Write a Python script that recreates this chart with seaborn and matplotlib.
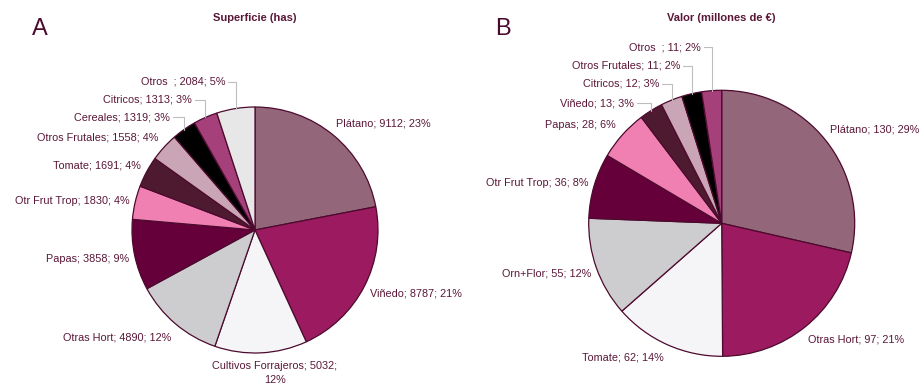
import matplotlib
matplotlib.use("Agg")
import matplotlib.pyplot as plt
import seaborn as sns
import numpy as np

sns.set_theme(style="white")
plt.rcParams["font.family"] = ["Liberation Sans", "DejaVu Sans"]

# --- Superficie (has) ---
sup_cats = ["Plátano", "Viñedo", "Cultivos Forrajeros", "Otras Hort", "Papas",
            "Otr Frut Trop", "Tomate", "Otros Frutales", "Cereales", "Citricos", "Otros  "]
sup_vals = [9112, 8787, 5032, 4890, 3858, 1830, 1691, 1558, 1319, 1313, 2084]
sup_pct = [23, 21, 12, 12, 9, 4, 4, 4, 3, 3, 5]

# --- Valor (millones de €) ---
val_cats = ["Plátano", "Otras Hort", "Tomate", "Orn+Flor", "Otr Frut Trop",
            "Papas", "Viñedo", "Citricos", "Otros Frutales", "Otros  "]
val_vals = [130, 97, 62, 55, 36, 28, 13, 12, 11, 11]
val_pct = [29, 21, 14, 12, 8, 6, 3, 3, 2, 2]

palette = sns.color_palette([
    "#94667a", "#9c1a5f", "#f5f5f7", "#cdcdd0", "#65003a", "#f080b2",
    "#4d1a30", "#c9a5b5", "#000000", "#a5407a", "#e7e7e7",
])

TXT = "#5a1737"
EDGE = "#4d0a2e"
LEAD = "#bdbdbd"
W, H = 921, 385

fig = plt.figure(figsize=(W / 100, H / 100), dpi=100)
fig.patch.set_facecolor("white")


def px(x, y):
    return x / W, 1 - y / H


def draw_pie(cx, cy, r, vals, cats, pct, title, letter, letter_xy, title_y,
             label_pos, leader_idx):
    ax = fig.add_axes([(cx - r) / W, 1 - (cy + r) / H, 2 * r / W, 2 * r / H])
    ax.pie(vals, colors=palette[:len(vals)], startangle=90, counterclock=False,
           radius=1, wedgeprops=dict(edgecolor=EDGE, linewidth=0.9))
    ax.set_xlim(-1, 1)
    ax.set_ylim(-1, 1)
    ax.set_axis_off()

    fig.text(*px(cx, title_y), title, ha="center", va="center",
             fontsize=8, fontweight="bold", color=TXT)
    fig.text(*px(*letter_xy), letter, ha="center", va="center",
             fontsize=17, color="#4a0a2e")

    total = float(sum(vals))
    ang = 90.0
    for i, (v, c, p) in enumerate(zip(vals, cats, pct)):
        span = v / total * 360.0
        mid = np.deg2rad(ang - span / 2)
        ang -= span
        txt = f"{c}; {v}; {p}%"
        lx, ly, ha = label_pos[i]
        if c == "Cultivos Forrajeros":
            txt = f"{c}; {v};\n{p}%"
            fig.text(*px(lx, ly), txt, ha="center", va="top", fontsize=7.8,
                     color=TXT, multialignment="center", linespacing=1.45)
            continue
        fig.text(*px(lx, ly), txt, ha=ha, va="center", fontsize=7.8, color=TXT)
        if i in leader_idx:
            wx = cx + r * np.cos(mid)
            wy = cy - r * np.sin(mid)
            xs = [lx + 3, wx, wx]
            ys = [ly, ly, wy]
            fig.add_artist(plt.Line2D([x / W for x in xs], [1 - y / H for y in ys],
                                      color=LEAD, lw=0.8))


sup_layout = [
    (336, 123, "left"), (370, 293, "left"), (275, 361, "center"),
    (171, 337, "right"), (129, 259, "right"), (130, 201, "right"),
    (141, 165, "right"), (158, 137, "right"), (170, 117, "right"),
    (192, 100, "right"), (225, 82, "right"),
]
val_layout = [
    (830, 130, "left"), (808, 339, "left"), (664, 357, "right"),
    (591, 273, "right"), (588, 183, "right"), (616, 125, "right"),
    (634, 103, "right"), (659, 84, "right"), (680, 66, "right"),
    (701, 47, "right"),
]

draw_pie(255, 230, 123, sup_vals, sup_cats, sup_pct, "Superficie (has)", "A",
         (40, 29), 18, sup_layout, {8, 9, 10})
draw_pie(721.7, 223.3, 133, val_vals, val_cats, val_pct, "Valor (millones de €)", "B",
         (503, 29), 18, val_layout, {6, 7, 8, 9})

fig.savefig("out.png", dpi=100, facecolor="white")
